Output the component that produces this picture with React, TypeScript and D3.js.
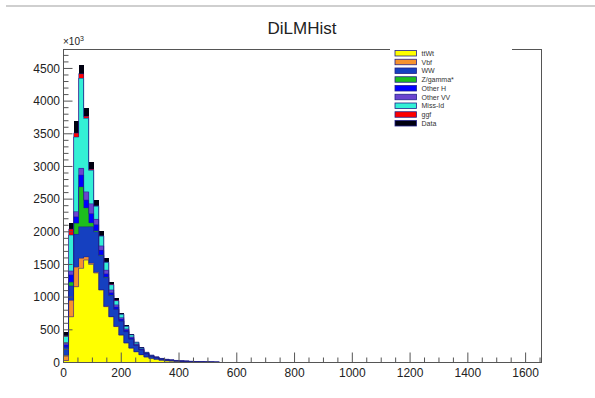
import React from "react";
import * as d3 from "d3";

// Stacked components, bottom to top, per 17.4-wide bin starting at 0 (values in units of 10^3)
const ttWt = [30, 700, 1160, 1440, 1568, 1500, 1370, 1110, 855, 700, 550, 420, 300, 220, 165, 120, 85, 62, 48, 35, 27, 22, 17, 14, 11, 9, 7, 6, 5, 4, 3];
const vbf = [80, 250, 300, 154, 50, 20, 10, 5, 4, 3, 2, 2, 1, 1, 1, 1, 0, 0, 0, 0, 0, 0, 0, 0, 0, 0, 0, 0, 0, 0, 0];
const ww = [120, 220, 500, 483, 460, 560, 620, 520, 440, 320, 260, 210, 170, 135, 95, 72, 48, 34, 27, 19, 15, 12, 10, 8, 7, 6, 5, 4, 3, 3, 2];
const zgamma = [10, 60, 170, 613, 290, 60, 20, 10, 8, 6, 5, 4, 3, 2, 2, 1, 1, 1, 0, 0, 0, 0, 0, 0, 0, 0, 0, 0, 0, 0, 0];
const otherH = [30, 110, 100, 178, 117, 140, 90, 70, 50, 40, 32, 25, 20, 16, 12, 9, 6, 4, 3, 2, 2, 1, 1, 1, 1, 0, 0, 0, 0, 0, 0];
const otherVV = [30, 60, 80, 102, 127, 150, 80, 70, 55, 42, 34, 27, 20, 16, 12, 9, 6, 4, 3, 2, 2, 2, 1, 1, 1, 1, 1, 0, 0, 0, 0];
const missId = [100, 550, 1140, 1377, 1123, 510, 200, 150, 120, 80, 64, 50, 40, 35, 22, 15, 9, 6, 5, 4, 2, 2, 2, 1, 1, 1, 1, 1, 1, 0, 0];
const ggf = [10, 90, 60, 73, 30, 15, 10, 5, 4, 3, 2, 2, 1, 1, 1, 1, 0, 0, 0, 0, 0, 0, 0, 0, 0, 0, 0, 0, 0, 0, 0];
const dataHist = [50, 90, 180, 130, 125, 115, 85, 70, 58, 42, 33, 25, 18, 14, 10, 7, 5, 4, 3, 2, 2, 1, 1, 1, 0, 0, 0, 0, 0, 0, 0];

const seriesNames = ["ttWt", "Vbf", "WW", "Z/gamma*", "Other H", "Other VV", "Miss-Id", "ggf", "Data"];
const seriesValues = [ttWt, vbf, ww, zgamma, otherH, otherVV, missId, ggf, dataHist];
const seriesColors = ["#ffff00", "#f5922f", "#1540c0", "#1dbf1d", "#0000ff", "#6a44cf", "#33f0d6", "#ff0000", "#000010"];

const BIN_WIDTH = 17.4;
const X_MAX = 1655;
const Y_MAX = 4790;

const W = 595;
const H = 398;
const left = 63.5;
const right = 541.5;
const top = 49.5;
const bottom = 362.5;

const FONT = "Liberation Sans, Arial, Helvetica, sans-serif";

export default function App() {
  const x = d3.scaleLinear().domain([0, X_MAX]).range([left, right]);
  const y = d3.scaleLinear().domain([0, Y_MAX]).range([bottom, top]);

  const nBins = ttWt.length;
  const rows = d3.range(nBins).map((i) => {
    const r: Record<string, number> = { bin: i };
    seriesNames.forEach((n, k) => (r[n] = seriesValues[k][i]));
    return r;
  });
  const stacked = d3.stack<Record<string, number>>().keys(seriesNames)(rows);

  // step outline of a cumulative layer
  const stepLine = d3
    .line<[number, number]>()
    .x((d) => x(d[0]))
    .y((d) => y(d[1]))
    .curve(d3.curveStepAfter);

  const xMajor = x.ticks(10);
  const xMinor = d3.range(0, X_MAX, 50).filter((v) => v % 200 !== 0);
  const yMajor = d3.range(0, 4501, 500);
  const yMinor = d3.range(0, Y_MAX, 100).filter((v) => v % 500 !== 0);

  const axisColor = "#555";

  const legendX = 390;
  const legendY = 46;
  const rowH = 8.75;

  return (
    <svg
      width={W}
      height={H}
      style={{ position: "absolute", left: 0, top: 0, background: "#fff" }}
      fontFamily={FONT}
    >
      <rect x={0} y={0} width={W} height={H} fill="#fff" />
      <line x1={6} x2={W} y1={6} y2={6} stroke="#cfcfcf" strokeWidth={2} />

      <text x={302} y={34} textAnchor="middle" fontSize={17} fill="#222">
        DiLMHist
      </text>

      {/* stacked fills */}
      {stacked.map((layer, k) => (
        <g key={seriesNames[k]}>
          {layer.map((d, i) =>
            d[1] > d[0] ? (
              <rect
                key={i}
                x={x(i * BIN_WIDTH)}
                width={x((i + 1) * BIN_WIDTH) - x(i * BIN_WIDTH)}
                y={y(d[1])}
                height={y(d[0]) - y(d[1])}
                fill={seriesColors[k]}
                shapeRendering="crispEdges"
              />
            ) : null
          )}
        </g>
      ))}

      {/* outlines of cumulative histograms */}
      {stacked.slice(0, 8).map((layer, k) => {
        const pts: [number, number][] = layer.map((d, i) => [i * BIN_WIDTH, d[1]]);
        pts.push([nBins * BIN_WIDTH, layer[nBins - 1][1]]);
        return (
          <path
            key={"o" + k}
            d={stepLine(pts) || ""}
            fill="none"
            stroke="#22228a"
            strokeWidth={0.7}
            opacity={0.8}
          />
        );
      })}

      {/* frame */}
      <rect x={left} y={top} width={right - left} height={bottom - top} fill="none" stroke={axisColor} strokeWidth={1} />

      {/* y axis ticks */}
      {yMajor.map((v) => (
        <g key={"ym" + v}>
          <line x1={left} x2={left + 9} y1={y(v)} y2={y(v)} stroke={axisColor} strokeWidth={1} />
          <text x={60} y={y(v)} dy="0.35em" textAnchor="end" fontSize={12} fill="#222">
            {v}
          </text>
        </g>
      ))}
      {yMinor.map((v) => (
        <line key={"yn" + v} x1={left} x2={left + 5} y1={y(v)} y2={y(v)} stroke={axisColor} strokeWidth={1} />
      ))}
      <text x={63} y={45} fontSize={10} fill="#222">
        ×10
        <tspan dy={-4} fontSize={7}>
          3
        </tspan>
      </text>

      {/* x axis ticks */}
      {xMajor.map((v) => (
        <g key={"xm" + v}>
          <line x1={x(v)} x2={x(v)} y1={bottom} y2={bottom - 10} stroke={axisColor} strokeWidth={1} />
          <text x={x(v)} y={377} textAnchor="middle" fontSize={12} fill="#222">
            {v}
          </text>
        </g>
      ))}
      {xMinor.map((v) => (
        <line key={"xn" + v} x1={x(v)} x2={x(v)} y1={bottom} y2={bottom - 5} stroke={axisColor} strokeWidth={1} />
      ))}

      {/* legend */}
      <rect x={legendX} y={legendY} width={122} height={84} fill="#fff" />
      {seriesNames.map((n, k) => (
        <g key={"lg" + n}>
          <rect
            x={legendX + 5}
            y={legendY + 4.5 + k * rowH}
            width={21.5}
            height={5.5}
            fill={seriesColors[k]}
            stroke="#22228a"
            strokeWidth={0.8}
          />
          <text x={legendX + 31.5} y={legendY + 7.3 + k * rowH} dy="0.35em" fontSize={7} fill="#333">
            {n}
          </text>
        </g>
      ))}
    </svg>
  );
}
